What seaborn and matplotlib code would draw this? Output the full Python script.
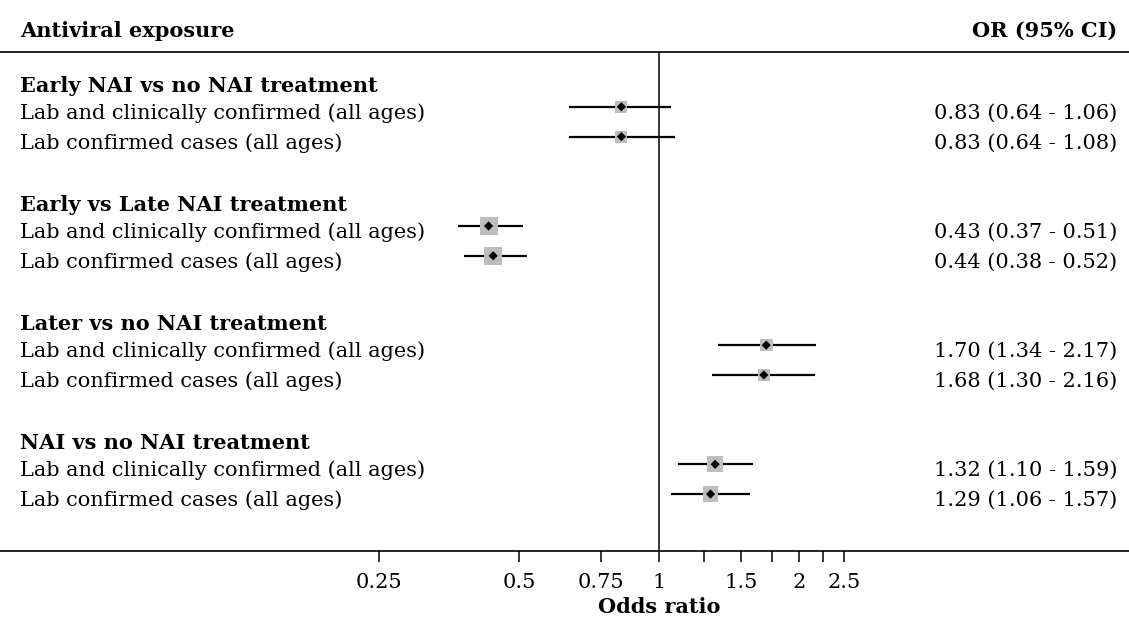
import numpy as np
import pandas as pd
import matplotlib
matplotlib.use("Agg")
import matplotlib.pyplot as plt
import matplotlib.transforms as mtransforms
import seaborn as sns

# ---- data ----
groups = ["Early NAI vs no NAI treatment", "Early vs Late NAI treatment",
          "Later vs no NAI treatment", "NAI vs no NAI treatment"]
subgroups = ["Lab and clinically confirmed (all ages)", "Lab confirmed cases (all ages)"]
or_est = [0.83, 0.83, 0.43, 0.44, 1.70, 1.68, 1.32, 1.29]
ci_low = [0.64, 0.64, 0.37, 0.38, 1.34, 1.30, 1.10, 1.06]
ci_high = [1.06, 1.08, 0.51, 0.52, 2.17, 2.16, 1.59, 1.57]
weight = [12, 12, 18, 18.5, 12.7, 12, 16, 15.3]   # box size (relative weight)
tick_values = [0.25, 0.5, 0.75, 1, 1.25, 1.5, 1.75, 2, 2.25, 2.5]
tick_labels = ["0.25", "0.5", "0.75", "1", "", "1.5", "", "2", "", "2.5"]

sns.set_theme(style="white")
plt.rcParams["font.family"] = ["DejaVu Serif", "Liberation Serif"]
plt.rcParams["text.color"] = "black"
plt.rcParams["xtick.color"] = "black"
plt.rcParams["axes.labelcolor"] = "black"
FS = 15

W, H = 1129, 623
fig = plt.figure(figsize=(W / 100, H / 100), dpi=100)
ax = fig.add_axes([0, (H - 551) / H, 1, (551 - 52) / H])

# row layout
rows = []
line = 0
for g, grp in enumerate(groups):
    rows.append(dict(kind="title", label=grp, y=line))
    line += 1
    for s, sub in enumerate(subgroups):
        i = g * 2 + s
        rows.append(dict(kind="item", label=sub, y=line, est=or_est[i],
                         lo=ci_low[i], hi=ci_high[i], w=weight[i]))
        line += 1
    line += 1
df = pd.DataFrame([r for r in rows if r["kind"] == "item"])

ax.set_xscale("log")
ax.set_xlim(0.0383, 10.24)
ax.set_ylim(15.91, -0.84)

# CI lines
ax.hlines(df["y"], df["lo"], df["hi"], color="black", lw=1.6, zorder=2)
# weight boxes
sizes = (df["w"] * 72 / 100) ** 2
sns.scatterplot(x=df["est"], y=df["y"], s=sizes.values, marker="s", color="#bdbdbd",
                edgecolor="none", ax=ax, zorder=3, legend=False)
# point estimate
sns.scatterplot(x=df["est"], y=df["y"], s=22, marker="D", color="black",
                edgecolor="none", ax=ax, zorder=4, legend=False)

# reference line
ax.axvline(1, color="black", lw=1.1, zorder=1)

# spines
for side in ["left", "right"]:
    ax.spines[side].set_visible(False)
for side in ["top", "bottom"]:
    ax.spines[side].set_visible(True)
    ax.spines[side].set_color("black")
    ax.spines[side].set_linewidth(1.2)

ax.set_xticks(tick_values)
ax.set_xticklabels(tick_labels)
ax.xaxis.set_minor_locator(matplotlib.ticker.NullLocator())
ax.tick_params(axis="x", which="major", direction="out", length=8, width=1.1,
               color="black", labelcolor="black", labelsize=FS, pad=8, bottom=True)
ax.set_yticks([])
ax.set_xlabel("")
ax.set_ylabel("")
ax.grid(False)

trans = mtransforms.blended_transform_factory(ax.transAxes, ax.transData)
for r in rows:
    if r["kind"] == "title":
        ax.text(20 / W, r["y"] + 0.5, r["label"], transform=trans, ha="left", va="baseline",
                fontsize=FS, fontweight="bold")
    else:
        ax.text(20 / W, r["y"] + 0.4, r["label"], transform=trans, ha="left", va="baseline",
                fontsize=FS)
        ax.text(1117 / W, r["y"] + 0.4, f"{r['est']:.2f} ({r['lo']:.2f} - {r['hi']:.2f})",
                transform=trans, ha="right", va="baseline", fontsize=FS)

fig.text(20 / W, 1 - 37 / H, "Antiviral exposure", ha="left", va="baseline",
         fontsize=FS, fontweight="bold")
fig.text(1117 / W, 1 - 37 / H, "OR (95% CI)", ha="right", va="baseline",
         fontsize=FS, fontweight="bold")
fig.text(659 / W, 1 - 613 / H, "Odds ratio", ha="center", va="baseline",
         fontsize=FS, fontweight="bold")

fig.savefig("out.png", dpi=100)
